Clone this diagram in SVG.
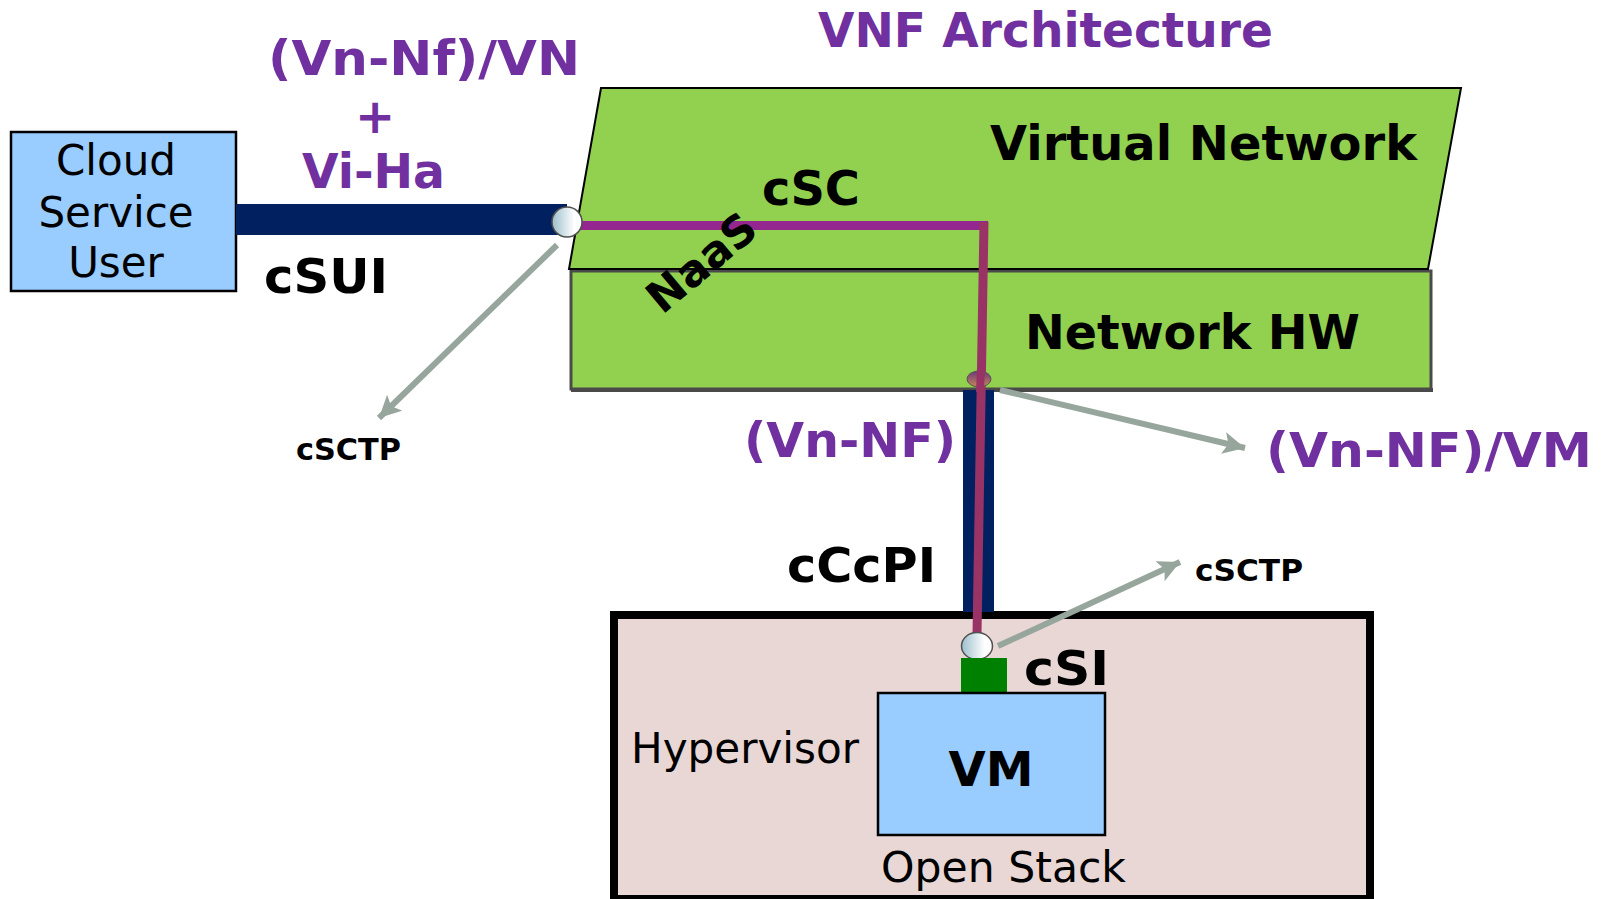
<svg xmlns="http://www.w3.org/2000/svg" width="1610" height="899" viewBox="0 0 1610 899">
  <style>
    text { font-family: "DejaVu Sans", Verdana, sans-serif; }
    .b { font-weight: bold; }
    .p { fill: #7030A0; }
    .k { fill: #000000; }
    .green { fill: #92D050; }
    .gray { stroke: #97A69C; stroke-width: 6; fill: none; marker-end: url(#ah); }
  </style>
  <defs>
    <marker id="ah" markerUnits="userSpaceOnUse" markerWidth="26" markerHeight="22" refX="22" refY="11" orient="auto">
      <path d="M0,0 L22,11 L0,22 L5,11 Z" fill="#97A69C"/>
    </marker>
    <linearGradient id="ball" x1="0" y1="0" x2="1" y2="0">
      <stop offset="0" stop-color="#9CBFCC"/>
      <stop offset="0.75" stop-color="#FFFFFF"/>
      <stop offset="1" stop-color="#FFFFFF"/>
    </linearGradient>
    <linearGradient id="oval" x1="0" y1="0" x2="0" y2="1">
      <stop offset="0" stop-color="#6A3A7A"/>
      <stop offset="1" stop-color="#C8845A"/>
    </linearGradient>
  </defs>

  <!-- Titles -->
  <g id="title">
    <text class="b p" x="818" y="47" font-size="48" textLength="455" lengthAdjust="spacingAndGlyphs">VNF Architecture</text>
  </g>
  <g id="label-vnvi">
    <text class="b p" x="268" y="75" font-size="48" textLength="312" lengthAdjust="spacingAndGlyphs">(Vn-Nf)/VN</text>
    <text class="b p" x="375" y="133" font-size="48" text-anchor="middle">+</text>
    <text class="b p" x="302" y="188" font-size="48" textLength="143" lengthAdjust="spacingAndGlyphs">Vi-Ha</text>
  </g>

  <!-- Hypervisor box -->
  <g id="hypervisor">
    <rect x="614" y="615" width="756" height="284" fill="#E8D7D4" stroke="#000000" stroke-width="8"/>
    <text x="631" y="763" font-size="42" textLength="228" lengthAdjust="spacingAndGlyphs">Hypervisor</text>
    <text x="881" y="882" font-size="42" textLength="245" lengthAdjust="spacingAndGlyphs">Open Stack</text>
  </g>

  <!-- Network HW -->
  <g id="network-hw">
    <rect x="571" y="271" width="860" height="118" fill="#92D050" stroke="#4A4A4A" stroke-width="3"/>
    <line x1="571" y1="390" x2="1433" y2="390" stroke="#4A4A4A" stroke-width="4"/>
    <text class="b" x="1025" y="349" font-size="48" textLength="335" lengthAdjust="spacingAndGlyphs">Network HW</text>
  </g>

  <!-- Virtual Network -->
  <g id="virtual-network">
    <polygon points="601,88 1461,88 1428,269 569,269" fill="#92D050" stroke="#000000" stroke-width="2"/>
    <text class="b" x="990" y="160" font-size="48" textLength="427" lengthAdjust="spacingAndGlyphs">Virtual Network</text>
    <text class="b" x="762" y="205" font-size="48" textLength="98" lengthAdjust="spacingAndGlyphs">cSC</text>
  </g>

  <!-- Cloud Service User -->
  <g id="cloud-service-user">
    <rect x="11" y="132" width="225" height="159" fill="#99CCFF" stroke="#000000" stroke-width="2.5"/>
    <text x="116" y="175" font-size="42" text-anchor="middle">Cloud</text>
    <text x="116" y="227" font-size="42" text-anchor="middle">Service</text>
    <text x="116" y="277" font-size="42" text-anchor="middle">User</text>
  </g>

  <!-- Connectors -->
  <g id="connectors">
    <rect x="236" y="204" width="331" height="31" fill="#002060"/>
    <rect x="963" y="390" width="31" height="222" fill="#002060"/>
    <line x1="580" y1="225.5" x2="988" y2="225.5" stroke="#93278F" stroke-width="9"/>
    <line x1="984" y1="222" x2="977" y2="634" stroke="#993366" stroke-width="9"/>
    <line class="gray" x1="557" y1="245" x2="379" y2="418"/>
    <line class="gray" x1="1000" y1="390" x2="1245" y2="448"/>
    <line class="gray" x1="998" y1="646" x2="1180" y2="562"/>
    <ellipse cx="979" cy="379" rx="12" ry="8" fill="url(#oval)" stroke="#555555" stroke-width="1"/>
    <line x1="981" y1="368" x2="980" y2="392" stroke="#993366" stroke-width="8"/>
    <circle cx="567" cy="222" r="15" fill="url(#ball)" stroke="#505050" stroke-width="1.5"/>
    <ellipse cx="977" cy="646" rx="15.5" ry="13.5" fill="url(#ball)" stroke="#505050" stroke-width="1.5"/>
  </g>

  <!-- VM -->
  <g id="csi-port">
    <rect x="961" y="658" width="46" height="35" fill="#008000"/>
    <text class="b" x="1024" y="685" font-size="48" textLength="85" lengthAdjust="spacingAndGlyphs">cSI</text>
  </g>
  <g id="vm">
    <rect x="878" y="693" width="227" height="142" fill="#99CCFF" stroke="#000000" stroke-width="2.5"/>
    <text class="b" x="991" y="786" font-size="48" text-anchor="middle">VM</text>
  </g>

  <!-- Labels -->
  <g id="labels">
    <text class="b" x="264" y="293" font-size="48" textLength="124" lengthAdjust="spacingAndGlyphs">cSUI</text>
    <text class="b" x="296" y="460" font-size="30" textLength="105" lengthAdjust="spacingAndGlyphs">cSCTP</text>
    <text class="b" x="1195" y="581" font-size="30" textLength="108" lengthAdjust="spacingAndGlyphs">cSCTP</text>
    <text class="b p" x="744" y="457" font-size="48" textLength="212" lengthAdjust="spacingAndGlyphs">(Vn-NF)</text>
    <text class="b p" x="1266" y="467" font-size="48" textLength="326" lengthAdjust="spacingAndGlyphs">(Vn-NF)/VM</text>
    <text class="b" x="787" y="582" font-size="48" textLength="149" lengthAdjust="spacingAndGlyphs">cCcPI</text>
    <text class="b" font-size="44" text-anchor="middle" transform="translate(701,262) rotate(-40)" x="0" y="16">NaaS</text>
  </g>
</svg>
